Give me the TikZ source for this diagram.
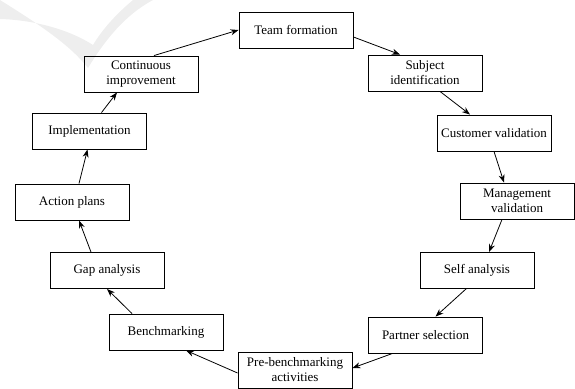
\documentclass[tikz,border=0pt]{standalone}
\usepackage{fontspec}
\setmainfont{Liberation Serif}
\usetikzlibrary{arrows.meta}

\begin{document}
\begin{tikzpicture}[x = 1pt, y = -1pt,
	stage/.style = {draw, rectangle, line width = 0.9pt, minimum width = 114pt,
		minimum height = 36pt, inner sep = 1pt, align = center,
		font = \fontsize{13}{15}\selectfont},
	flow/.style = {-{Stealth[length = 8pt, width = 6pt]}, line width = 0.8pt}]

	\useasboundingbox (0, 0) rectangle (575, 388);

	% Watermark

	\fill[gray!13] (0, 0) .. controls (40, 25) and (70, 45) .. (88, 68)
		.. controls (105, 40) and (125, 15) .. (153, 0) -- (133, 0)
		.. controls (115, 15) and (102, 30) .. (93, 45)
		.. controls (70, 30) and (35, 20) .. (0, 19) -- cycle;

	% Stages

	\node[stage] (team) at (296, 30) {Team formation};
	\node[stage] (subj) at (425, 73) {Subject\\identification};
	\node[stage] (cust) at (494, 133) {Customer validation};
	\node[stage] (mgmt) at (517, 201) {Management\\validation};
	\node[stage] (self) at (477, 270.5) {Self analysis};
	\node[stage] (partner) at (425.5, 335) {Partner selection};
	\node[stage] (pre) at (295, 370) {Pre-benchmarking\\activities};
	\node[stage] (bench) at (166, 332) {Benchmarking};
	\node[stage] (gap) at (107, 270.5) {Gap analysis};
	\node[stage] (action) at (72, 202) {Action plans};
	\node[stage] (impl) at (89.5, 131) {Implementation};
	\node[stage] (cont) at (141, 74) {Continuous\\improvement};

	% Arrows

	\begin{scope}[flow]

		\draw ([xshift = 13]cont.north) -- (team.west);
		\draw ([yshift = -7]team.east) -- ([xshift = -25]subj.north);
		\draw ([xshift = 15]subj.south) -- ([xshift = -24]cust.north);
		\draw (cust.south) -- ([xshift = -13]mgmt.north);
		\draw ([xshift = -15]mgmt.south) -- ([xshift = 12]self.north);
		\draw ([xshift = -11]self.south) -- ([xshift = 10]partner.north);
		\draw ([xshift = -33]partner.south) -- ([yshift = 2]pre.east);
		\draw ([yshift = -3]pre.west) -- ([xshift = 20]bench.south);
		\draw ([xshift = -34]bench.north) -- (gap.south);
		\draw ([xshift = -16]gap.north) -- ([xshift = 7]action.south);
		\draw ([xshift = 7]action.north) -- ([xshift = -2]impl.south);
		\draw ([xshift = 12]impl.north) -- ([xshift = -24]cont.south);

	\end{scope}

\end{tikzpicture}
\end{document}
